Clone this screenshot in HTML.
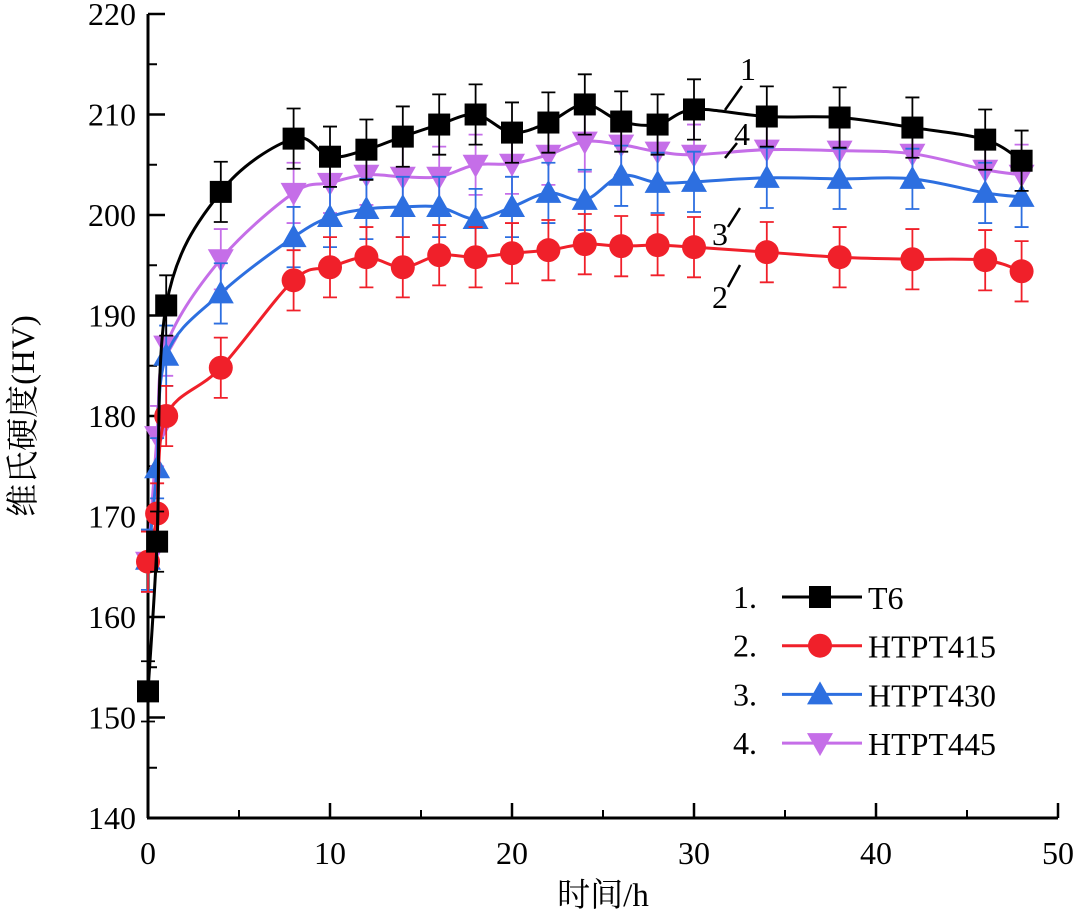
<!DOCTYPE html>
<html><head><meta charset="utf-8"><style>body{margin:0;background:#fff}svg text{font-family:"Liberation Serif","Noto Serif CJK SC",serif;fill:#000}</style></head>
<body>
<svg id="c" width="1080" height="915"></svg>
<script>
const xs=[0,0.5,1,4,8,10,12,14,16,18,20,22,24,26,28,30,34,38,42,46,48];
const t6=[152.6,167.5,191,202.3,207.6,205.8,206.5,207.8,209,210,208.2,209.2,211,209.3,209,210.5,209.8,209.7,208.7,207.5,205.4];
const h415=[165.5,170.3,180,184.8,193.5,194.8,195.8,194.8,196,195.8,196.2,196.5,197.1,196.9,197,196.8,196.3,195.8,195.6,195.5,194.4];
const h430=[165.7,174.8,186,192.2,197.8,199.8,200.6,200.8,200.8,199.6,200.8,202.2,201.5,203.9,203.2,203.3,203.7,203.6,203.6,202.2,201.8];
const h445=[165.5,178,187,195.6,202.2,203.2,204,203.8,203.8,205,205.1,206,207.3,207,206.3,206,206.5,206.4,206.1,204.5,204];
const errs=[3,3,3,3,3,3,3,3,3,3,3,3,3,3,3,3,3,3,3,3,3];
const xTicks=[0,10,20,30,40,50];
const yTicks=[140,150,160,170,180,190,200,210,220];
const NS="http://www.w3.org/2000/svg",svg=document.getElementById('c');
const X=v=>148+v*18.2, Y=v=>14+(220-v)*10.05;
function el(t,a,p){const e=document.createElementNS(NS,t);for(const k in a)e.setAttribute(k,a[k]);(p||svg).appendChild(e);return e;}
function spline(pts){let d=`M${pts[0][0]},${pts[0][1]}`;for(let i=0;i<pts.length-1;i++){const p0=pts[Math.max(0,i-1)],p1=pts[i],p2=pts[i+1],p3=pts[Math.min(pts.length-1,i+2)];const c1=[p1[0]+(p2[0]-p0[0])/6,p1[1]+(p2[1]-p0[1])/6],c2=[p2[0]-(p3[0]-p1[0])/6,p2[1]-(p3[1]-p1[1])/6];d+=`C${c1[0]},${c1[1]} ${c2[0]},${c2[1]} ${p2[0]},${p2[1]}`;}return d;}
function marker(type,x,y,col,g){let m;
 if(type==='sq')m=el('rect',{x:x-11,y:y-11,width:22,height:22,fill:col},g);
 else if(type==='ci')m=el('circle',{cx:x,cy:y,r:12,fill:col},g);
 else if(type==='up')m=el('polygon',{points:`${x},${y-13} ${x-13},${y+10} ${x+13},${y+10}`,fill:col},g);
 else m=el('polygon',{points:`${x},${y+13} ${x-13},${y-10} ${x+13},${y-10}`,fill:col},g);
 return m;}
const series=[[t6,'#000','sq','t6'],[h415,'#f0202a','ci','htpt415'],[h430,'#2d6fe0','up','htpt430'],[h445,'#c56ee8','dn','htpt445']];
const ax=el('g',{});


el('line',{x1:148,y1:14,x2:148,y2:818,stroke:'#000','stroke-width':3},ax);
el('line',{x1:147,y1:818,x2:1058,y2:818,stroke:'#000','stroke-width':3},ax);
xTicks.forEach(v=>{el('line',{x1:X(v),y1:818,x2:X(v),y2:803,stroke:'#000','stroke-width':2.5},ax);if(v<50)el('line',{x1:X(v+5),y1:818,x2:X(v+5),y2:810,stroke:'#000','stroke-width':2},ax);const t=el('text',{x:X(v),y:864,'font-size':32,'text-anchor':'middle'},ax);t.textContent=v;});
yTicks.forEach(v=>{el('line',{x1:148,y1:Y(v),x2:165,y2:Y(v),stroke:'#000','stroke-width':2.5},ax);if(v<220)el('line',{x1:148,y1:Y(v+5),x2:157,y2:Y(v+5),stroke:'#000','stroke-width':2},ax);const t=el('text',{x:136,y:Y(v)+11,'font-size':32,'text-anchor':'end'},ax);t.textContent=v;});
const xl=el('text',{x:603,y:906,'font-size':33,'text-anchor':'middle'});xl.textContent='时间/h';


const yl=el('text',{x:0,y:0,'font-size':33,'text-anchor':'middle',transform:'translate(34,416) rotate(-90)'});yl.textContent='维氏硬度(HV)';


series.slice().reverse().forEach(([vals,col,mt,name])=>{
 const g=el('g',{});
 
 
 xs.forEach((x,i)=>{const px=X(x),y1=Y(vals[i]+errs[i]),y2=Y(vals[i]-errs[i]);el('path',{d:`M${px},${y1}V${y2}M${px-7},${y1}H${px+7}M${px-7},${y2}H${px+7}`,stroke:col,'stroke-width':1.8,fill:'none'},g);});
 el('path',{d:spline(xs.map((x,i)=>[X(x),Y(vals[i])])),stroke:col,'stroke-width':3,fill:'none'},g);
 xs.forEach((x,i)=>marker(mt,X(x),Y(vals[i]),col,g));
});
[['1',748,80,725,110,742,86],['4',742,145,725,158,737,143],['3',720,245,728,227,740,208],['2',720,308,728,287,740,265]].forEach(([n,tx,ty,x1,y1,x2,y2])=>{const g=el('g',{});el('line',{x1,y1,x2,y2,stroke:'#000','stroke-width':2.5},g);const t=el('text',{x:tx,y:ty,'font-size':32,'text-anchor':'middle'},g);t.textContent=n;});
const labels=['T6','HTPT415','HTPT430','HTPT445'];
series.forEach(([v,col,mt,name],i)=>{const y=597+i*48.7;const g=el('g',{});
 
 
 const n=el('text',{x:733,y:y+11,'font-size':32},g);n.textContent=(i+1)+'.';
 el('line',{x1:782,y1:y,x2:862,y2:y,stroke:col,'stroke-width':3},g);marker(mt,820,y,col,g);
 const t=el('text',{x:868,y:y+12,'font-size':32},g);t.textContent=labels[i];});
</script>
</body></html>
